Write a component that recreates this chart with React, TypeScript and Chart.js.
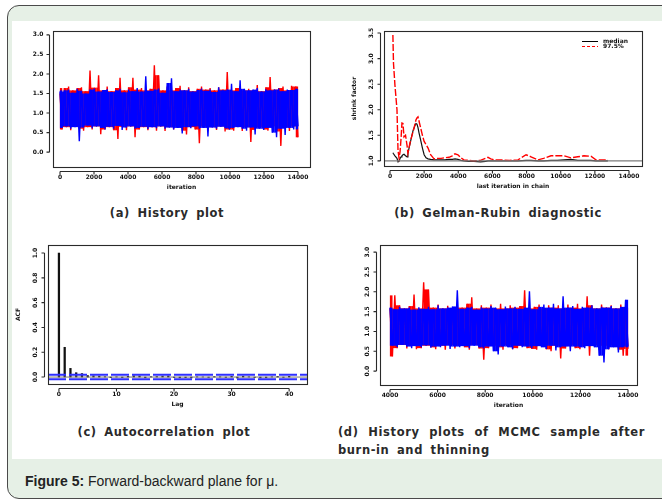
import React, { useEffect, useRef } from "react";
import { Chart, registerables } from "chart.js";
Chart.register(...registerables);

const W = 662;
const H = 501;

// ---------- (a) History plot ----------
const iterStartA = 0;
const iterEndA = 14000;
const chainBlueA = [
  1.55, 0.62, 1.58, 0.66, 1.6, 0.6, 1.52, 0.64, 1.62, 0.28,
  1.57, 0.63, 1.5, 0.68, 1.6, 0.61, 1.63, 0.66, 1.55, 0.62,
  1.59, 0.58, 1.61, 0.65, 1.54, 0.6, 1.58, 0.67, 1.62, 0.57,
  1.53, 0.63, 1.6, 0.66, 1.56, 0.6, 1.64, 0.62, 1.55, 0.65,
  1.94, 0.59, 1.57, 0.64, 1.6, 0.61, 1.63, 0.66, 1.52, 0.6,
  1.77, 0.63, 1.89, 0.58, 1.56, 0.62, 1.6, 0.48, 1.58, 0.64,
  1.62, 0.61, 1.55, 0.66, 1.59, 0.6, 1.63, 0.62, 1.57, 0.4,
  1.6, 0.63, 1.54, 0.6, 1.66, 0.65, 1.58, 0.61, 1.6, 0.58,
  1.75, 0.62, 1.56, 0.64, 1.84, 0.6, 1.62, 0.55, 1.58, 0.63,
  1.6, 0.45, 1.64, 0.6, 1.55, 0.57, 1.61, 0.62, 1.58, 0.5,
  1.6, 0.38, 1.63, 0.6, 1.56, 0.44, 1.6, 0.62, 1.59, 0.58,
  1.62, 0.66,
];
const chainRedA = [
  1.5, 0.58, 1.64, 0.64, 1.68, 0.56, 1.58, 0.66, 1.64, 0.6,
  1.66, 0.55, 1.56, 0.64, 2.09, 0.58, 1.65, 0.66, 1.97, 0.46,
  1.58, 0.58, 1.68, 0.64, 1.56, 0.56, 1.64, 0.34, 1.9, 0.65,
  1.58, 0.56, 1.66, 0.66, 1.9, 0.38, 1.6, 0.58, 1.64, 0.64,
  1.58, 0.56, 1.62, 0.64, 2.22, 0.55, 1.97, 0.66, 1.58, 0.54,
  1.68, 0.64, 1.58, 0.58, 1.64, 0.66, 1.7, 0.55, 1.58, 0.45,
  1.66, 0.64, 1.56, 0.58, 1.62, 0.23, 1.68, 0.66, 1.6, 0.55,
  1.64, 0.64, 1.58, 0.57, 1.66, 0.66, 1.6, 0.53, 2.05, 0.58,
  1.58, 0.55, 1.64, 0.66, 1.7, 0.54, 1.58, 0.64, 1.62, 0.26,
  1.58, 0.57, 1.72, 0.64, 1.56, 0.58, 1.66, 0.55, 1.92, 0.66,
  1.6, 0.53, 1.64, 0.16, 1.68, 0.64, 1.58, 0.54, 1.7, 0.66,
  1.68, 0.38,
];
const xTicksA = [0, 2000, 4000, 6000, 8000, 10000, 12000, 14000];
const xLabelsA = ["0", "2000", "4000", "6000", "8000", "10000", "12000", "14000"];
const yTicksA = [0, 0.5, 1, 1.5, 2, 2.5, 3];
const yLabelsA = ["0.0", "0.5", "1.0", "1.5", "2.0", "2.5", "3.0"];

// ---------- (b) Gelman-Rubin ----------
const grIter = [
  170, 205, 290, 410, 470, 530, 590, 650, 700, 760,
  820, 910, 1000, 1050, 1170, 1250, 1350, 1450, 1520, 1580,
  1640, 1700, 1800, 1900, 2000, 2110, 2230, 2380, 2580, 2800,
  2990, 3200, 3460, 3650, 3810, 3980, 4150, 4330, 4600, 4920,
  5300, 5600, 5740, 5900, 6100, 6500, 7000, 7500, 7970, 8260,
  8670, 9000, 9430, 9800, 10190, 10600, 11000, 11360, 11770, 12060,
  12400, 12760,
];
const grUpper = [
  3.46, 2.91, 2.48, 2.0, 1.2, 1.06, 1.18, 1.45, 1.74, 1.73,
  1.47, 1.5, 1.3, 1.15, 1.35, 1.45, 1.57, 1.7, 1.8, 1.84,
  1.86, 1.78, 1.64, 1.5, 1.38, 1.32, 1.25, 1.12, 1.04, 1.05,
  1.05, 1.06, 1.07, 1.1, 1.14, 1.12, 1.06, 1.02, 1.01, 1.0,
  1.01, 1.05, 1.07, 1.04, 1.02, 1.02, 1.01, 1.02, 1.12, 1.08,
  1.02, 1.05, 1.1, 1.1, 1.1, 1.06, 1.08, 1.1, 1.09, 1.02,
  1.02, 1.02,
];
const grMedian = [
  1.16, 1.14, 1.1, 1.05, 0.98, 0.99, 1.05, 1.08, 1.1, 1.12,
  1.13, 1.1, 1.08, 1.15, 1.33, 1.45, 1.59, 1.68, 1.73, 1.72,
  1.65, 1.55, 1.4, 1.25, 1.12, 1.06, 1.04, 1.03, 1.02, 1.02,
  1.02, 1.02, 1.03, 1.03, 1.04, 1.03, 1.01, 1.0, 0.99, 0.99,
  0.98, 0.99, 1.0, 1.0, 1.0, 1.0, 1.0, 1.0, 1.01, 1.01,
  1.0, 1.0, 1.01, 1.01, 1.02, 1.03, 1.01, 1.01, 1.01, 1.0,
  1.0, 1.0,
];
const grReference = 1;
const xTicksB = xTicksA;
const xLabelsB = xLabelsA;
const yTicksB = [1, 1.5, 2, 2.5, 3, 3.5];
const yLabelsB = ["1.0", "1.5", "2.0", "2.5", "3.0", "3.5"];
const legendB = ["median", "97.5%"];

// ---------- (c) Autocorrelation ----------
const acfLags = [
  0, 1, 2, 3, 4, 5, 6, 7, 8, 9, 10, 11, 12, 13, 14, 15, 16, 17, 18, 19, 20,
  21, 22, 23, 24, 25, 26, 27, 28, 29, 30, 31, 32, 33, 34, 35, 36, 37, 38, 39, 40,
];
const acfValues = [
  1.0, 0.24, 0.07, 0.035, 0.028, 0.012, 0.01, 0.008, 0.003, -0.005, 0.002,
  -0.004, 0.006, 0.01, 0.009, -0.006, 0.003, 0.004, 0.008, 0.009, -0.004,
  -0.006, -0.005, -0.007, 0.002, 0.001, -0.003, 0.004, 0.002, -0.003, 0.006,
  -0.008, 0.007, 0.002, -0.004, -0.007, -0.006, 0.002, 0.005, -0.003, 0.006,
];
const acfCI = 0.018;
const xTicksC = [0, 10, 20, 30, 40];
const xLabelsC = ["0", "10", "20", "30", "40"];
const yTicksC = [0, 0.2, 0.4, 0.6, 0.8, 1.0];
const yLabelsC = ["0.0", "0.2", "0.4", "0.6", "0.8", "1.0"];

// ---------- (d) History after burn-in and thinning ----------
const iterStartD = 4000;
const iterEndD = 14000;
const chainBlueD = [
  1.6, 0.64, 1.56, 0.6, 1.62, 0.66, 1.58, 0.62, 1.6, 0.58,
  1.55, 0.63, 1.61, 0.6, 1.57, 0.65, 1.62, 0.59, 1.56, 0.62,
  1.66, 0.6, 1.58, 0.64, 1.6, 0.56, 1.63, 0.62, 2.04, 0.6,
  1.57, 0.63, 1.6, 0.58, 1.62, 0.64, 1.55, 0.6, 1.61, 0.57,
  1.58, 0.62, 1.64, 0.5, 1.6, 0.42, 1.56, 0.62, 1.63, 0.6,
  1.58, 0.55, 1.62, 0.64, 1.57, 0.6, 1.6, 0.62, 2.01, 0.58,
  1.56, 0.63, 1.62, 0.6, 1.68, 0.56, 1.6, 0.64, 1.7, 0.52,
  1.58, 0.6, 1.89, 0.62, 1.6, 0.5, 1.64, 0.62, 1.57, 0.6,
  1.62, 0.58, 1.6, 0.63, 1.66, 0.6, 1.58, 0.39, 1.62, 0.22,
  1.6, 0.55, 1.64, 0.6, 1.58, 0.47, 1.62, 0.6, 1.8, 0.62,
];
const chainRedD = [
  1.58, 0.37, 1.91, 0.58, 1.66, 0.66, 1.58, 0.57, 1.64, 0.64,
  1.93, 0.55, 1.58, 0.58, 2.24, 0.64, 2.06, 0.6, 1.6, 0.55,
  1.68, 0.64, 1.58, 0.54, 1.65, 0.66, 1.58, 0.57, 1.66, 0.64,
  1.6, 0.6, 1.7, 0.54, 1.86, 0.66, 1.58, 0.57, 1.66, 0.29,
  1.6, 0.58, 1.68, 0.64, 1.58, 0.6, 1.7, 0.54, 1.58, 0.66,
  1.66, 0.55, 1.6, 0.58, 1.64, 0.64, 2.04, 0.58, 1.58, 0.56,
  1.62, 0.54, 1.68, 0.66, 1.58, 0.55, 1.66, 0.5, 1.6, 0.64,
  1.66, 0.32, 1.58, 0.57, 1.68, 0.66, 1.6, 0.58, 1.7, 0.55,
  1.58, 0.64, 1.89, 0.39, 1.66, 0.66, 1.58, 0.54, 1.68, 0.64,
  1.6, 0.55, 1.66, 0.66, 1.58, 0.54, 1.68, 0.39, 1.6, 0.56,
];
const xTicksD = [4000, 6000, 8000, 10000, 12000, 14000];
const xLabelsD = ["4000", "6000", "8000", "10000", "12000", "14000"];
const yTicksD = yTicksA;
const yLabelsD = yLabelsA;

// ---------- rendering helpers ----------
type Box = { l: number; t: number; r: number; b: number };
type Spec = {
  xTicks: number[];
  xLabels: string[];
  yTicks: number[];
  yLabels: string[];
  yRot: boolean;
  xTitle?: string;
  yTitle?: string;
  legend?: { text: string; color: string; dash: number[] }[];
};

const TICK_FONT = "bold 6px 'DejaVu Sans'";

const rAxesPlugin = {
  id: "rAxes",
  afterDraw(chart: any, _args: any, opts: any) {
    const spec: Spec = opts.spec;
    if (!spec) return;
    const ctx = chart.ctx as CanvasRenderingContext2D;
    const a = chart.chartArea;
    const xs = chart.scales.x;
    const ys = chart.scales.y;
    ctx.save();
    ctx.strokeStyle = "#2a2a2a";
    ctx.lineWidth = 1.1;
    ctx.setLineDash([]);
    ctx.strokeRect(a.left + 0.5, a.top + 0.5, a.right - a.left, a.bottom - a.top);
    const gap = 4;
    const tl = 3;
    // x axis
    const ay = Math.round(a.bottom + gap) + 0.5;
    const xp = spec.xTicks.map((v) => xs.getPixelForValue(v));
    ctx.beginPath();
    ctx.moveTo(xp[0], ay);
    ctx.lineTo(xp[xp.length - 1], ay);
    xp.forEach((p) => {
      ctx.moveTo(p, ay);
      ctx.lineTo(p, ay + tl);
    });
    ctx.stroke();
    ctx.font = TICK_FONT;
    ctx.fillStyle = "#111";
    ctx.textAlign = "center";
    ctx.textBaseline = "middle";
    spec.xLabels.forEach((s, i) => ctx.fillText(s, xp[i], ay + 6));
    // y axis
    const ax = Math.round(a.left - gap) + 0.5;
    const yp = spec.yTicks.map((v) => ys.getPixelForValue(v));
    ctx.beginPath();
    ctx.moveTo(ax, yp[0]);
    ctx.lineTo(ax, yp[yp.length - 1]);
    yp.forEach((p) => {
      ctx.moveTo(ax, p);
      ctx.lineTo(ax - tl, p);
    });
    ctx.stroke();
    spec.yLabels.forEach((s, i) => {
      if (spec.yRot) {
        ctx.save();
        ctx.translate(ax - tl - 6, yp[i]);
        ctx.rotate(-Math.PI / 2);
        ctx.textAlign = "center";
        ctx.textBaseline = "middle";
        ctx.fillText(s, 0, 0);
        ctx.restore();
      } else {
        ctx.textAlign = "right";
        ctx.textBaseline = "middle";
        ctx.fillText(s, ax - tl - 3, yp[i]);
      }
    });
    // titles
    if (spec.xTitle) {
      ctx.textAlign = "center";
      ctx.textBaseline = "middle";
      ctx.fillText(spec.xTitle, (a.left + a.right) / 2, ay + 16);
    }
    if (spec.yTitle) {
      ctx.save();
      ctx.translate(a.left - 30, (a.top + a.bottom) / 2);
      ctx.rotate(-Math.PI / 2);
      ctx.textAlign = "center";
      ctx.textBaseline = "middle";
      ctx.fillText(spec.yTitle, 0, 0);
      ctx.restore();
    }
    if (spec.legend) {
      spec.legend.forEach((it, i) => {
        const y = Math.round(a.top + 10 + i * 5) + 0.5;
        ctx.strokeStyle = it.color;
        ctx.lineWidth = 1;
        ctx.setLineDash(it.dash);
        ctx.beginPath();
        ctx.moveTo(a.right - 60, y);
        ctx.lineTo(a.right - 44, y);
        ctx.stroke();
        ctx.setLineDash([]);
        ctx.textAlign = "left";
        ctx.textBaseline = "middle";
        ctx.fillStyle = "#111";
        ctx.fillText(it.text, a.right - 39, y);
      });
    }
    ctx.restore();
  },
};

function baseOptions(box: Box, xMin: number, xMax: number, yMin: number, yMax: number, spec: Spec) {
  return {
    responsive: false,
    animation: false as const,
    devicePixelRatio: 1,
    events: [] as any[],
    layout: { padding: { left: box.l, top: box.t, right: W - box.r, bottom: H - box.b } },
    plugins: { legend: { display: false }, tooltip: { enabled: false }, rAxes: { spec } },
    elements: { point: { radius: 0 }, line: { tension: 0 } },
    scales: {
      x: { type: "linear", display: false, min: xMin, max: xMax, offset: false },
      y: { type: "linear", display: false, min: yMin, max: yMax },
    },
  };
}

function trace(values: number[], start: number, end: number) {
  const step = (end - start) / (values.length - 1);
  return values.map((v, i) => ({ x: start + i * step, y: v }));
}

// Dense core of the trace: between samples i and i+1 the (very dense) real trace
// fills the band; use the inner range of the 4 surrounding samples so that single
// spikes stay thin and are drawn by the trace line only.
function traceCore(values: number[], start: number, end: number) {
  const step = (end - start) / (values.length - 1);
  return values.slice(1).map((_, i) => {
    const win = values.slice(Math.max(0, i - 1), Math.min(values.length, i + 3)).sort((p, q) => p - q);
    const lo = win.length >= 4 ? win[1] : win[0];
    const hi = win.length >= 4 ? win[win.length - 2] : win[win.length - 1];
    return { x: start + (i + 0.5) * step, y: [lo, hi] };
  });
}

function historyConfig(box: Box, blue: number[], red: number[], start: number, end: number,
  xMin: number, xMax: number, yMin: number, yMax: number, spec: Spec) {
  const bar = { type: "bar", categoryPercentage: 1, barPercentage: 1.1, borderWidth: 0, grouped: false };
  const line = { type: "line", borderWidth: 1.4, pointRadius: 0 };
  return {
    type: "bar",
    data: {
      datasets: [
        { ...line, data: trace(blue, start, end), borderColor: "#0000ff", order: 0 },
        { ...bar, data: traceCore(blue, start, end), backgroundColor: "#0000ff", order: 1 },
        { ...line, data: trace(red, start, end), borderColor: "#ff0000", order: 2 },
        { ...bar, data: traceCore(red, start, end), backgroundColor: "#ff0000", order: 3 },
      ],
    },
    options: baseOptions(box, xMin, xMax, yMin, yMax, spec),
    plugins: [rAxesPlugin],
  };
}

function configA() {
  const box = { l: 53, t: 31, r: 310, b: 167 };
  const spec: Spec = { xTicks: xTicksA, xLabels: xLabelsA, yTicks: yTicksA, yLabels: yLabelsA, yRot: false, xTitle: "iteration" };
  return historyConfig(box, chainBlueA, chainRedA, iterStartA, iterEndA, -412, 14706, -0.38, 3.1, spec);
}

function configB() {
  const box = { l: 384, t: 31, r: 642, b: 166 };
  const spec: Spec = {
    xTicks: xTicksB, xLabels: xLabelsB, yTicks: yTicksB, yLabels: yLabelsB, yRot: true,
    xTitle: "last iteration in chain", yTitle: "shrink factor",
    legend: [
      { text: legendB[0], color: "#000", dash: [] },
      { text: legendB[1], color: "#ff0000", dash: [3, 2] },
    ],
  };
  const xMin = -351, xMax = 14761;
  return {
    type: "line",
    data: {
      datasets: [
        { data: [{ x: xMin, y: grReference }, { x: xMax, y: grReference }], borderColor: "#7a7a7a", borderWidth: 1.4, pointRadius: 0, order: 0 },
        { data: grIter.map((x, i) => ({ x, y: grUpper[i] })), borderColor: "#ff0000", borderWidth: 1.4, borderDash: [7, 2], pointRadius: 0, order: 1 },
        { data: grIter.map((x, i) => ({ x, y: grMedian[i] })), borderColor: "#111", borderWidth: 1.2, pointRadius: 0, order: 2 },
      ],
    },
    options: baseOptions(box, xMin, xMax, 0.9, 3.54, spec),
    plugins: [rAxesPlugin],
  };
}

function configC() {
  const box = { l: 48, t: 245, r: 307, b: 384 };
  const spec: Spec = { xTicks: xTicksC, xLabels: xLabelsC, yTicks: yTicksC, yLabels: yLabelsC, yRot: true, xTitle: "Lag", yTitle: "ACF" };
  const xMin = -1.9, xMax = 43.1;
  return {
    type: "bar",
    data: {
      datasets: [
        { type: "line", data: [{ x: xMin, y: acfCI }, { x: xMax, y: acfCI }], borderColor: "#2f2fff", borderWidth: 2, borderDash: [18, 3], pointRadius: 0, order: 0 },
        { type: "line", data: [{ x: xMin, y: -acfCI }, { x: xMax, y: -acfCI }], borderColor: "#2f2fff", borderWidth: 2, borderDash: [18, 3], pointRadius: 0, order: 0 },
        { type: "line", data: [{ x: xMin, y: 0 }, { x: xMax, y: 0 }], borderColor: "#777", borderWidth: 1, pointRadius: 0, order: 1 },
        { type: "bar", data: acfLags.map((l, i) => ({ x: l, y: acfValues[i] })), backgroundColor: "#111", barThickness: 1.6, order: 2 },
      ],
    },
    options: baseOptions(box, xMin, xMax, -0.056, 1.065, spec),
    plugins: [rAxesPlugin],
  };
}

function configD() {
  const box = { l: 380, t: 245, r: 637, b: 385 };
  const spec: Spec = { xTicks: xTicksD, xLabels: xLabelsD, yTicks: yTicksD, yLabels: yLabelsD, yRot: true, xTitle: "iteration" };
  return historyConfig(box, chainBlueD, chainRedD, iterStartD, iterEndD, 3580, 14378, -0.35, 3.18, spec);
}

function PanelChart({ build }: { build: () => any }) {
  const ref = useRef<HTMLCanvasElement>(null);
  useEffect(() => {
    const chart = new Chart(ref.current as HTMLCanvasElement, build());
    return () => chart.destroy();
  }, []);
  return (
    <canvas
      ref={ref}
      width={W}
      height={H}
      style={{ position: "absolute", left: 0, top: 0, width: W, height: H, pointerEvents: "none" }}
    />
  );
}

const capStyle: React.CSSProperties = {
  position: "absolute",
  fontFamily: "'DejaVu Sans', sans-serif",
  fontWeight: "bold",
  fontSize: 11.5,
  lineHeight: "14px",
  letterSpacing: 0.6,
  wordSpacing: 3,
  color: "#2a2a2a",
  whiteSpace: "nowrap",
};

export default function App() {
  return (
    <div style={{ position: "absolute", left: 0, top: 0, width: W, height: H, overflow: "hidden", background: "#fff" }}>
      <div
        style={{
          position: "absolute", left: 7, top: 5, width: 690, height: 494, boxSizing: "border-box",
          border: "1.5px solid #4a4a4a", borderRadius: 12, background: "#e6f0e6",
        }}
      />
      <div style={{ position: "absolute", left: 12, top: 21, width: 650, height: 438, background: "#fff" }} />
      <div style={{ ...capStyle, left: 47, top: 206, width: 240, textAlign: "center" }}>(a) History plot</div>
      <div style={{ ...capStyle, left: 378, top: 206, width: 240, textAlign: "center" }}>(b) Gelman-Rubin diagnostic</div>
      <div style={{ ...capStyle, left: 44, top: 425, width: 240, textAlign: "center" }}>(c) Autocorrelation plot</div>
      <div style={{ ...capStyle, left: 338, top: 425, width: 307, textAlign: "justify", textAlignLast: "justify", whiteSpace: "normal", wordSpacing: 0 } as React.CSSProperties}>
        (d) History plots of MCMC sample after
      </div>
      <div style={{ ...capStyle, left: 338, top: 443 }}>burn-in and thinning</div>
      <div
        style={{
          position: "absolute", left: 25, top: 473, fontFamily: "'Liberation Sans', Arial, sans-serif",
          fontSize: 14, lineHeight: "16px", color: "#222", whiteSpace: "nowrap",
        }}
      >
        <b>Figure 5:</b> Forward-backward plane for μ.
      </div>
      <PanelChart build={configA} />
      <PanelChart build={configB} />
      <PanelChart build={configC} />
      <PanelChart build={configD} />
    </div>
  );
}
